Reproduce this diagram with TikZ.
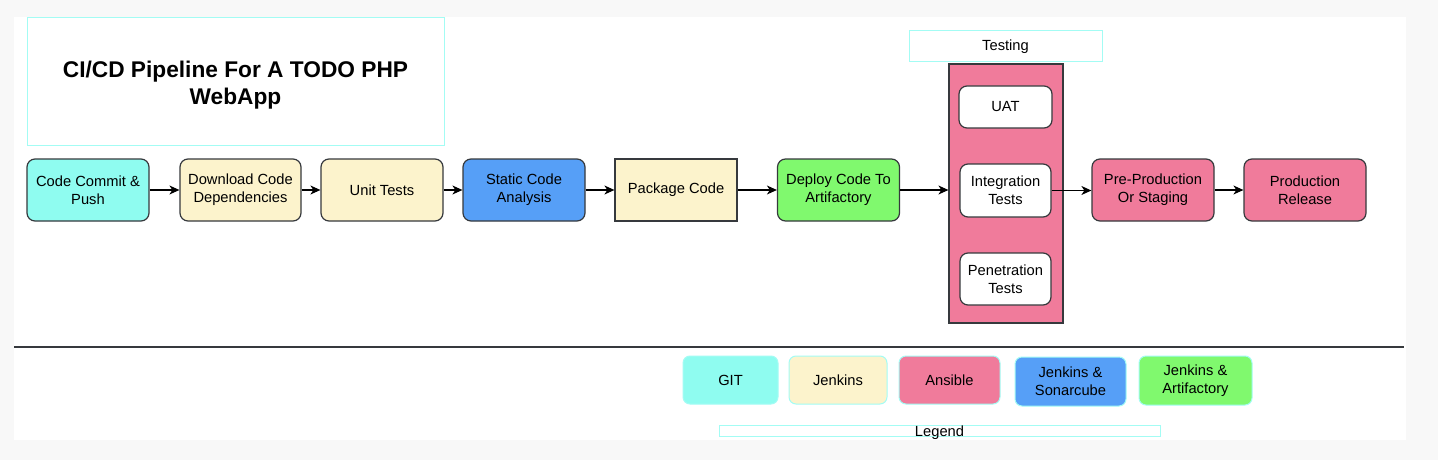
\documentclass[tikz,border=0pt]{standalone}
\usepackage{fontspec}
\setmainfont{Liberation Sans}
\usepackage{tikz}
\usetikzlibrary{arrows.meta}

\definecolor{gitcyan}{HTML}{8FFCF0}
\definecolor{jenkinsyellow}{HTML}{FCF3CC}
\definecolor{ansiblepink}{HTML}{F07B9B}
\definecolor{sonarblue}{HTML}{569FF7}
\definecolor{artifgreen}{HTML}{80F96E}
\definecolor{edgegray}{HTML}{36393D}
\definecolor{framecyan}{HTML}{A3FCF4}
\definecolor{pagegray}{HTML}{F8F8F8}

\begin{document}
\begin{tikzpicture}[x=1pt,y=-1pt,
	boxtext/.style={align=center, inner sep=1pt, font=\fontsize{14.7}{18}\selectfont},
	stage/.style={boxtext, draw=edgegray, line width=1.2pt, rounded corners=8pt, minimum width=122pt, minimum height=62pt},
	teststep/.style={stage, fill=white, minimum width=91pt},
	legendbox/.style={boxtext, draw=framecyan, line width=1pt, rounded corners=7pt, minimum height=48pt},
	flow/.style={-{Stealth[length=10pt,width=9pt,inset=3pt]}, line width=1.1pt, black}]

	\useasboundingbox (0,0) rectangle (1438,460);
	\fill[pagegray] (0,0) rectangle (1438,460);
	\fill[white] (14,17) rectangle (1406,440);

	% title
	\node[draw=framecyan, line width=1pt, minimum width=417pt, minimum height=127pt] (title) at (235.5,81.5) {};
	\node[align=center, font=\fontsize{22.7}{27}\selectfont\bfseries] (titletext) at ([yshift=-3.5pt]title.center) {CI/CD Pipeline For A TODO PHP\\WebApp};

	% pipeline
	\node[stage, fill=gitcyan] (commit) at (88,190) {Code Commit \&\\Push};
	\node[stage, fill=jenkinsyellow, minimum width=121pt] (download) at (240.5,190) {Download Code\\Dependencies};
	\node[stage, fill=jenkinsyellow] (unit) at (382,190) {Unit Tests};
	\node[stage, fill=sonarblue] (static) at (524,190) {Static Code\\Analysis};
	\node[stage, fill=jenkinsyellow, rounded corners=0pt] (package) at (676,190) {Package Code};
	\node[stage, fill=artifgreen] (deploy) at (838.5,190) {Deploy Code To\\Artifactory};

	% testing stage
	\node[boxtext, draw=framecyan, line width=1pt, minimum width=193pt, minimum height=31pt] (testlabel) at (1005.5,46.5) {Testing};
	\node[draw=edgegray, fill=ansiblepink, line width=1.2pt, minimum width=114pt, minimum height=259pt] (tests) at (1006,193.5) {};
	\node[teststep, minimum width=93pt, minimum height=42pt] (uat) at (1005.5,107) {UAT};
	\node[teststep, minimum height=53pt] (integ) at (1005.5,190.5) {Integration\\Tests};
	\node[teststep, minimum height=52pt] (pen) at (1005.5,279) {Penetration\\Tests};

	\node[stage, fill=ansiblepink] (preprod) at (1153,190) {Pre-Production\\Or Staging};
	\node[stage, fill=ansiblepink] (prod) at (1305,190) {Production\\Release};

	\foreach \a/\b in {commit/download, download/unit, unit/static, static/package, package/deploy, preprod/prod}
		\draw[flow] (\a) -- (\b);
	\draw[flow] (deploy) -- (deploy -| tests.west);
	\draw[flow] (integ.east) -- (integ.east -| preprod.west);

	% legend
	\draw[line width=1.2pt, edgegray] (14,347) -- (1404,347);

	\node[legendbox, fill=gitcyan, minimum width=95pt] (lgit) at (730.5,380) {GIT};
	\node[legendbox, fill=jenkinsyellow, minimum width=98pt] (ljenkins) at (838,380) {Jenkins};
	\node[legendbox, fill=ansiblepink, minimum width=101pt] (lansible) at (949.5,380) {Ansible};
	\node[legendbox, fill=sonarblue, minimum width=111pt, minimum height=49pt] (lsonar) at (1070.5,381.5) {Jenkins \&\\Sonarcube};
	\node[legendbox, fill=artifgreen, minimum width=113pt, minimum height=49pt] (lartif) at (1195.5,380.5) {Jenkins \&\\Artifactory};

	\node[draw=framecyan, line width=1pt, inner sep=0pt, minimum width=441pt, minimum height=11pt] (legendbar) at (939.5,430.5) {};
	\node[boxtext] (legendtext) at ([yshift=-2pt]legendbar.center) {Legend};

\end{tikzpicture}
\end{document}
